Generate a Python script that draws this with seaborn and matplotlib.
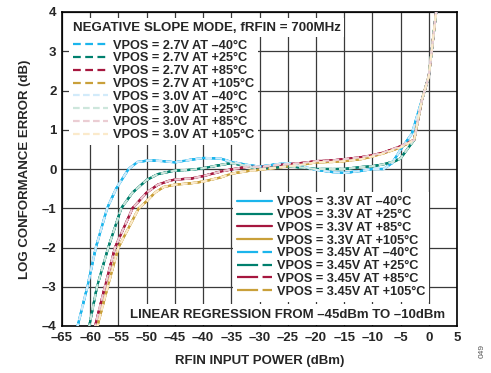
import numpy as np
import pandas as pd
import matplotlib
matplotlib.use('Agg')
import matplotlib.pyplot as plt
import seaborn as sns

# ---------- Data ----------
temps = ['–40°C', '+25°C', '+85°C', '+105°C']
vpos = ['2.7V', '3.0V', '3.3V', '3.45V']

x_m40 = [-62.4, -60.5, -59.0, -57.0, -55.4, -53.2, -51.6, -49.5, -47, -45, -42, -40, -37, -35,
         -32, -30, -27, -25, -22, -20, -17, -15, -12, -10, -8, -6.5, -5, -3, -1.2, 0, 1.3, 1.5]
y_m40 = [-4.1, -3, -2, -1, -0.5, 0.0, 0.18, 0.22, 0.2, 0.17, 0.24, 0.28, 0.27, 0.18,
         0.1, 0.06, 0.12, 0.15, 0.05, -0.02, -0.08, -0.1, -0.05, 0.0, 0.0, 0.15, 0.49, 0.9, 1.77, 2.36, 4.0, 4.2]

x_25 = [-60.3, -58.8, -56.8, -54.5, -52.5, -50, -48, -45, -42, -40, -37, -35, -33,
        -30, -27, -25, -22, -20, -17, -15, -12, -10, -8, -6, -5, -2.6, -1.2, 0, 1.3, 1.5]
y_25 = [-4.1, -3, -2, -1, -0.6, -0.28, -0.13, -0.04, -0.02, 0.02, 0.1, 0.15, 0.1,
        0.0, 0.04, 0.07, 0.03, 0.0, 0.0, 0.0, 0.05, 0.07, 0.12, 0.2, 0.27, 0.74, 1.77, 2.36, 4.0, 4.2]

x_85 = [-59.3, -57.4, -55.6, -52.5, -50, -48, -46, -45, -42, -40, -37, -35, -32, -30, -27,
        -25, -22, -20, -17, -15, -12, -10, -8, -5, -2.6, -1.2, 0, 1.3, 1.5]
y_85 = [-4.1, -3, -2, -1, -0.6, -0.4, -0.3, -0.27, -0.24, -0.18, -0.07, -0.01, 0.06, 0.05, 0.1,
        0.12, 0.16, 0.2, 0.22, 0.25, 0.3, 0.35, 0.42, 0.58, 0.74, 1.77, 2.36, 4.0, 4.2]

x_105 = [-58.9, -56.9, -55.0, -51.4, -50, -48.5, -47, -45, -42, -40, -37, -35, -32, -30, -27,
         -25, -22, -20, -17, -15, -12, -10, -8, -5, -2.6, -1.2, 0, 1.3, 1.5]
y_105 = [-4.1, -3, -2, -1, -0.82, -0.6, -0.46, -0.4, -0.36, -0.32, -0.22, -0.12, -0.05, -0.02, 0.03,
         0.07, 0.12, 0.17, 0.18, 0.2, 0.25, 0.32, 0.4, 0.55, 0.74, 1.77, 2.36, 4.0, 4.2]

xticks = list(range(-65, 10, 5))
xtick_labels = ['–65', '–60', '–55', '–50', '–45', '–40', '–35', '–30', '–25', '–20',
                '–15', '–10', '–5', '0', '5']
yticks = list(range(-4, 5))
ytick_labels = ['–4', '–3', '–2', '–1', '0', '1', '2', '3', '4']

curves = {
    temps[0]: (x_m40, y_m40),
    temps[1]: (x_25, y_25),
    temps[2]: (x_85, y_85),
    temps[3]: (x_105, y_105),
}

# ---------- Styles ----------
full_colors = ['#1BB5EC', '#00806E', '#A6173F', '#C9A03A']
pale_colors = ['#D2EBFA', '#CDE6DC', '#EBCDD3', '#FBEACB']
lw = 1.6
styles = {
    '3.3V': dict(colors=full_colors, ls='-'),
    '3.45V': dict(colors=full_colors, ls=(0, (9.5, 2))),
    '2.7V': dict(colors=full_colors, ls=(0, (3.5, 2))),
    '3.0V': dict(colors=pale_colors, ls=(0, (3, 1.5))),
}

sns.set_style('white')
plt.rcParams['font.family'] = ['Liberation Sans', 'DejaVu Sans']
plt.rcParams['font.weight'] = 'bold'

fig = plt.figure(figsize=(4.91, 3.73), dpi=100)
ax = fig.add_axes([62 / 491, 47 / 373, 395 / 491, 314 / 373])

handles = {}
for v in ['3.3V', '3.45V', '2.7V', '3.0V']:
    for t, c in zip(temps, styles[v]['colors']):
        xs, ys = curves[t]
        df = pd.DataFrame({'rfin': xs, 'err': ys})
        sns.lineplot(data=df, x='rfin', y='err', ax=ax, color=c, lw=lw,
                     linestyle=styles[v]['ls'], label=f'VPOS = {v} AT {t}',
                     legend=False, zorder=3)
        handles[f'VPOS = {v} AT {t}'] = ax.lines[-1]

ax.set_xlim(-65, 5)
ax.set_ylim(-4, 4)
ax.set_xticks(xticks)
ax.set_xticklabels(xtick_labels)
ax.set_yticks(yticks)
ax.set_yticklabels(ytick_labels)
ax.tick_params(labelsize=9.5, length=0, pad=4)
for lab in ax.get_xticklabels() + ax.get_yticklabels():
    lab.set_fontweight('bold')
ax.grid(True, color='#3a3a3a', lw=0.9)
for s in ax.spines.values():
    s.set_color('black')
    s.set_linewidth(1.2)

ax.set_xlabel('RFIN INPUT POWER (dBm)', fontsize=9.5, fontweight='bold', labelpad=8)
ax.set_ylabel('LOG CONFORMANCE ERROR (dB)', fontsize=9.5, fontweight='bold', labelpad=8)

# Legends
lab1 = [f'VPOS = {v} AT {t}' for v in ['2.7V', '3.0V'] for t in temps]
lab2 = [f'VPOS = {v} AT {t}' for v in ['3.3V', '3.45V'] for t in temps]
common = dict(fontsize=9.2, frameon=True, framealpha=1, fancybox=False, edgecolor='none',
              handlelength=2.75, handletextpad=0.4, labelspacing=0.06, borderpad=0.3,
              borderaxespad=0)
leg1 = ax.legend([handles[l] for l in lab1], lab1, loc='upper left',
                 bbox_to_anchor=(0.018, 0.924), **common)
leg1.set_zorder(5)
ax.add_artist(leg1)
leg2 = ax.legend([handles[l] for l in lab2], lab2, loc='lower left',
                 bbox_to_anchor=(0.433, 0.078), **common)
leg2.set_zorder(5)

ax.text(0.028, 0.95, 'NEGATIVE SLOPE MODE, fRFIN = 700MHz', transform=ax.transAxes,
        ha='left', va='center', fontsize=9.6, fontweight='bold', zorder=6,
        bbox=dict(facecolor='white', edgecolor='none', pad=2.5))

ax.text(0.57, 0.036, 'LINEAR REGRESSION FROM –45dBm TO –10dBm', transform=ax.transAxes,
        ha='center', va='center', fontsize=9.5, fontweight='bold', zorder=6,
        bbox=dict(facecolor='white', edgecolor='none', pad=3))

fig.text(0.982, 0.04, '049', rotation=90, fontsize=6, color='#555555',
         fontweight='normal', ha='center', va='bottom')

fig.savefig('out.png', dpi=100)
